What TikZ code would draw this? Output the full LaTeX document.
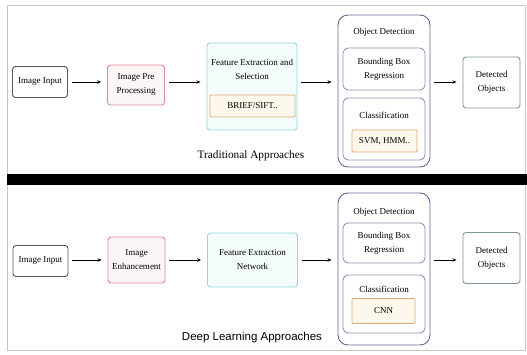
\documentclass[tikz,border=0pt]{standalone}
\usepackage{fontspec}
\setmainfont{Liberation Serif}
\setsansfont{Liberation Sans}
\usetikzlibrary{arrows.meta}

\definecolor{inkgray}{RGB}{85,85,85}
\definecolor{pinkline}{RGB}{215,140,150}
\definecolor{pinkfill}{RGB}{253,246,247}
\definecolor{cyanline}{RGB}{150,215,220}
\definecolor{cyanfill}{RGB}{244,252,252}
\definecolor{orangeline}{RGB}{225,170,110}
\definecolor{orangefill}{RGB}{254,248,236}
\definecolor{purpline}{RGB}{105,100,150}
\definecolor{tealline}{RGB}{130,150,150}

\begin{document}
\begin{tikzpicture}[x=1pt, y=-1pt,
    font=\fontsize{9}{14}\selectfont, align=center,
    box/.style={draw, rectangle, rounded corners=3pt, align=center, line width=0.9pt, inner sep=1pt},
    inbox/.style={box, draw=inkgray, fill=white, minimum width=55pt, minimum height=31pt},
    pinkbox/.style={box, draw=pinkline, fill=pinkfill, minimum width=57pt},
    featbox/.style={box, draw=cyanline, fill=cyanfill, minimum width=90pt},
    tagbox/.style={box, rounded corners=1pt, draw=orangeline, fill=orangefill, minimum height=22pt},
    detbox/.style={box, rounded corners=10pt, draw=purpline, fill=white, minimum width=92pt, minimum height=152pt},
    subbox/.style={box, rounded corners=5pt, draw=purpline!70, fill=white, minimum width=82pt},
    outbox/.style={box, draw=tealline, fill=white, minimum width=57pt, minimum height=51pt},
    arr/.style={-{Stealth[length=4pt,width=3.5pt]}, line width=1pt, shorten <=4pt, shorten >=6pt}]

    \useasboundingbox (0,0) rectangle (527,354);
    \fill[white] (0,0) rectangle (527,354);

    % panel frames
    \draw[gray!45, line width=0.8pt] (7,5) rectangle (525,350);
    \fill[black] (7,174) rectangle (527,185);

    % traditional approaches
    \node[inbox] (in1) at (40,82) {Image Input};
    \node[pinkbox, minimum height=40pt] (pre) at (136,85) {Image Pre\\Processing};
    \node[featbox, minimum height=87pt] (feat1) at (252,86.5) {};
    \node (feattxt1) at (252,69) {Feature Extraction and\\Selection};
    \node[tagbox, minimum width=85pt] (brief) at (252.5,106) {BRIEF/SIFT..};
    \node[font=\fontsize{11.3}{13}\selectfont] (trad) at (251,156) {Traditional Approaches};

    \node[detbox] (det1) at (384,91) {};
    \node (dettitle1) at (384,32) {Object Detection};
    \node[subbox, minimum height=42pt] (bbr1) at (384,69) {Bounding Box\\Regression};
    \node[subbox, minimum height=62pt] (cls1) at (384,129) {};
    \node (clstitle1) at (384,115) {Classification};
    \node[tagbox, minimum width=65pt] (svm) at (384.5,141) {SVM, HMM..};
    \node[outbox] (out1) at (491.5,82.5) {Detected\\Objects};

    \draw[arr] (in1.east) -- (in1.east -| pre.west);
    \draw[arr] (pre.east |- in1.east) -- (in1.east -| feat1.west);
    \draw[arr] (feat1.east |- in1.east) -- (in1.east -| det1.west);
    \draw[arr] (det1.east |- in1.east) -- (in1.east -| out1.west);

    % deep learning approaches
    \node[inbox] (in2) at (40.5,261) {Image Input};
    \node[pinkbox, minimum height=46pt] (enh) at (136.5,260) {Image\\Enhancement};
    \node[featbox, minimum height=54pt] (feat2) at (252.5,260) {Feature Extraction\\Network};
    \node[font=\sffamily\fontsize{11.5}{13}\selectfont] (deep) at (252,338) {Deep Learning Approaches};

    \node[detbox] (det2) at (384,269) {};
    \node (dettitle2) at (384,212) {Object Detection};
    \node[subbox, minimum height=40pt] (bbr2) at (384,243) {Bounding Box\\Regression};
    \node[subbox, minimum height=58pt] (cls2) at (384,304) {};
    \node (clstitle2) at (384,289) {Classification};
    \node[tagbox, minimum width=63pt, minimum height=25pt] (cnn) at (383.5,311) {CNN};
    \node[outbox] (out2) at (491.5,258) {Detected\\Objects};

    \draw[arr] (in2.east |- enh.east) -- (enh.west);
    \draw[arr] (enh.east) -- (enh.east -| feat2.west);
    \draw[arr] (feat2.east) -- (feat2.east -| det2.west);
    \draw[arr] (det2.east |- feat2.east) -- (feat2.east -| out2.west);
\end{tikzpicture}
\end{document}
